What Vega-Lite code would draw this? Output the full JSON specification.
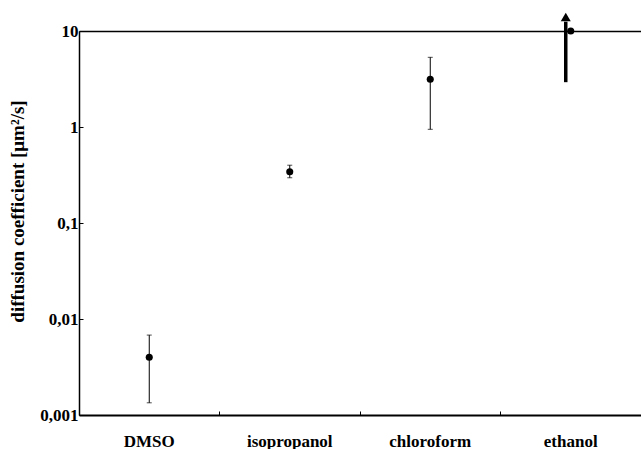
{
  "$schema": "https://vega.github.io/schema/vega-lite/v6.json",
  "width": 562,
  "height": 384,
  "autosize": {"type": "none"},
  "padding": {"left": 79, "top": 31, "right": 0, "bottom": 34},
  "background": "white",
  "config": {
    "view": {"stroke": null},
    "font": "Liberation Serif",
    "axis": {"grid": false, "domainColor": "black", "tickColor": "black", "labelColor": "black", "titleColor": "black", "labelFont": "Liberation Serif", "titleFont": "Liberation Serif", "labelFontWeight": "bold", "titleFontWeight": "bold", "labelFontSize": 17, "titleFontSize": 19},
    "axisY": {"domainWidth": 1.5, "tickSize": -4, "labelPadding": 5, "titlePadding": 12, "titleY": 180, "tickCount": 4, "labelExpr": "replace(toString(datum.value), '.', ',')"},
    "axisRight": {"domain": false, "ticks": false, "labels": false}
  },
  "resolve": {"axis": {"x": "independent", "y": "shared"}},
  "data": {
    "values": [
      {"solvent": "DMSO", "D": 0.0040, "lo": 0.00134, "hi": 0.0068},
      {"solvent": "isopropanol", "D": 0.342, "lo": 0.296, "hi": 0.40},
      {"solvent": "chloroform", "D": 3.14, "lo": 0.946, "hi": 5.32},
      {"solvent": "ethanol", "D": 10, "lo": 2.93, "hi": 12.5, "tip": 14.0}
    ]
  },
  "layer": [
    {
      "mark": {"type": "circle", "color": "black", "opacity": 1, "size": 50},
      "encoding": {
        "x": {
          "field": "solvent",
          "type": "nominal",
          "sort": null,
          "scale": {"paddingInner": 0, "paddingOuter": 0},
          "axis": {"title": null, "labelAngle": 0, "domainWidth": 2, "tickSize": -4, "tickWidth": 1, "bandPosition": 0, "labelPadding": 22, "labelBaseline": "top"}
        },
        "y": {
          "field": "D",
          "type": "quantitative",
          "title": "diffusion coefficient [μm²/s]",
          "scale": {"type": "log", "domain": [0.001, 10], "nice": false}
        }
      }
    },
    {
      "layer": [
        {
          "mark": {"type": "circle", "opacity": 0},
          "encoding": {
            "x": {"field": "solvent", "type": "nominal", "sort": null, "axis": {"orient": "top", "title": null, "labels": false, "ticks": false, "domainWidth": 1.3}},
            "y": {"field": "D", "type": "quantitative", "title": "diffusion coefficient [μm²/s]"}
          }
        }
      ]
    },
    {
      "transform": [{"filter": "datum.solvent !== 'ethanol'"}],
      "mark": {"type": "rule", "color": "black", "strokeWidth": 1},
      "encoding": {
        "x": {"field": "solvent", "type": "nominal", "sort": null, "axis": null},
        "y": {"field": "lo", "type": "quantitative", "title": "diffusion coefficient [μm²/s]"},
        "y2": {"field": "hi"}
      }
    },
    {
      "transform": [{"filter": "datum.solvent !== 'ethanol'"}],
      "mark": {"type": "tick", "color": "black", "size": 5, "thickness": 1, "orient": "horizontal"},
      "encoding": {
        "x": {"field": "solvent", "type": "nominal", "sort": null, "axis": null},
        "y": {"field": "lo", "type": "quantitative", "title": "diffusion coefficient [μm²/s]"}
      }
    },
    {
      "transform": [{"filter": "datum.solvent !== 'ethanol'"}],
      "mark": {"type": "tick", "color": "black", "size": 5, "thickness": 1, "orient": "horizontal"},
      "encoding": {
        "x": {"field": "solvent", "type": "nominal", "sort": null, "axis": null},
        "y": {"field": "hi", "type": "quantitative", "title": "diffusion coefficient [μm²/s]"}
      }
    },
    {
      "transform": [{"filter": "datum.solvent === 'ethanol'"}],
      "mark": {"type": "rule", "color": "black", "strokeWidth": 3.5, "xOffset": -5},
      "encoding": {
        "x": {"field": "solvent", "type": "nominal", "sort": null, "axis": null},
        "y": {"field": "lo", "type": "quantitative", "title": "diffusion coefficient [μm²/s]"},
        "y2": {"field": "hi"}
      }
    },
    {
      "transform": [{"filter": "datum.solvent === 'ethanol'"}],
      "mark": {"type": "point", "shape": "triangle-up", "filled": true, "color": "black", "opacity": 1, "size": 100, "xOffset": -5},
      "encoding": {
        "x": {"field": "solvent", "type": "nominal", "sort": null, "axis": null},
        "y": {"field": "tip", "type": "quantitative", "title": "diffusion coefficient [μm²/s]"}
      }
    }
  ]
}
